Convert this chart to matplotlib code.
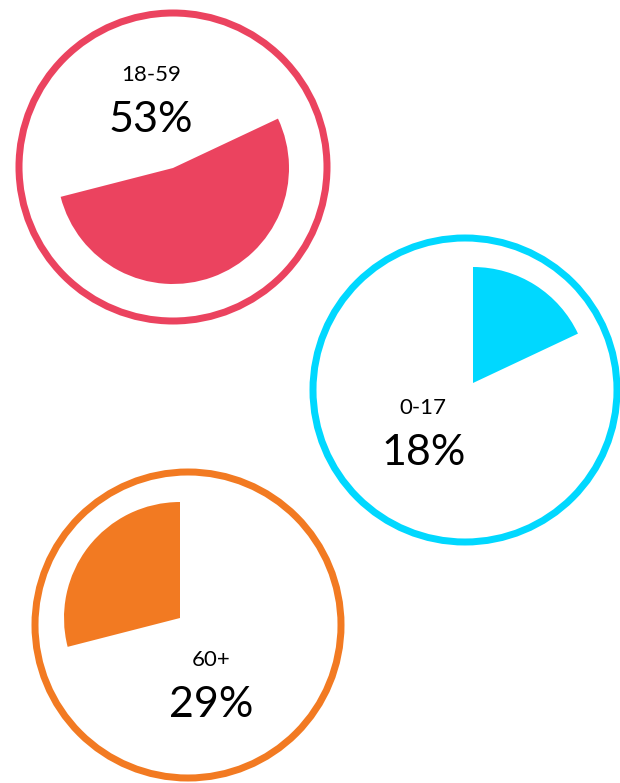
import matplotlib
matplotlib.use("Agg")
import matplotlib.pyplot as plt
from matplotlib.patches import Circle

# Age groups, share of population (%)
groups = ["18-59", "0-17", "60+"]
shares = [53, 18, 29]
colors = ["#EB435F", "#00D8FF", "#F27A22"]

W, H = 620, 783
fig = plt.figure(figsize=(W / 100, H / 100), dpi=100)
fig.patch.set_facecolor("white")

# Layout in pixels: wedge centre, ring centre, ring radius, label positions
layout = {
    "18-59": dict(wc=(173, 168), rc=(173, 167), rr=154, lab=(151, 75), pct=(151, 120)),
    "0-17": dict(wc=(473, 383), rc=(465, 390), rr=152, lab=(423, 408), pct=(424, 453)),
    "60+": dict(wc=(180, 618), rc=(188, 625), rr=153, lab=(211, 660), pct=(211, 705)),
}
wedge_r = 116
half = 170

# start angles chain so the three wedges together make one pie (0-17 starts at 12 o'clock)
order = ["0-17", "18-59", "60+"]
start = 90.0
starts = {}
for g in order:
    starts[g] = start
    start -= shares[groups.index(g)] * 3.6

font = dict(family=["Lato", "DejaVu Sans"], color="black", fontweight="normal")

for g, v, c in zip(groups, shares, colors):
    L = layout[g]
    cx, cy = L["wc"]
    ax = fig.add_axes([(cx - half) / W, 1 - (cy + half) / H, 2 * half / W, 2 * half / H])
    ax.pie([v, 100 - v], colors=[c, "none"], startangle=starts[g],
           counterclock=False, radius=wedge_r)
    ax.set_xlim(-half, half)
    ax.set_ylim(-half, half)
    ax.set_aspect("equal")
    ax.axis("off")

    rx, ry = L["rc"]
    ring = Circle((rx - cx, cy - ry), L["rr"], fill=False, edgecolor=c,
                  linewidth=7 * 72 / 100, clip_on=False)
    ax.add_patch(ring)

    lx, ly = L["lab"]
    ax.text(lx - cx, cy - ly, g, ha="center", va="center",
            fontsize=16, clip_on=False, **font)
    px, py = L["pct"]
    ax.text(px - cx, cy - py, f"{v}%", ha="center", va="center",
            fontsize=31, clip_on=False, **font)

fig.savefig("out.png", dpi=100, facecolor="white")
